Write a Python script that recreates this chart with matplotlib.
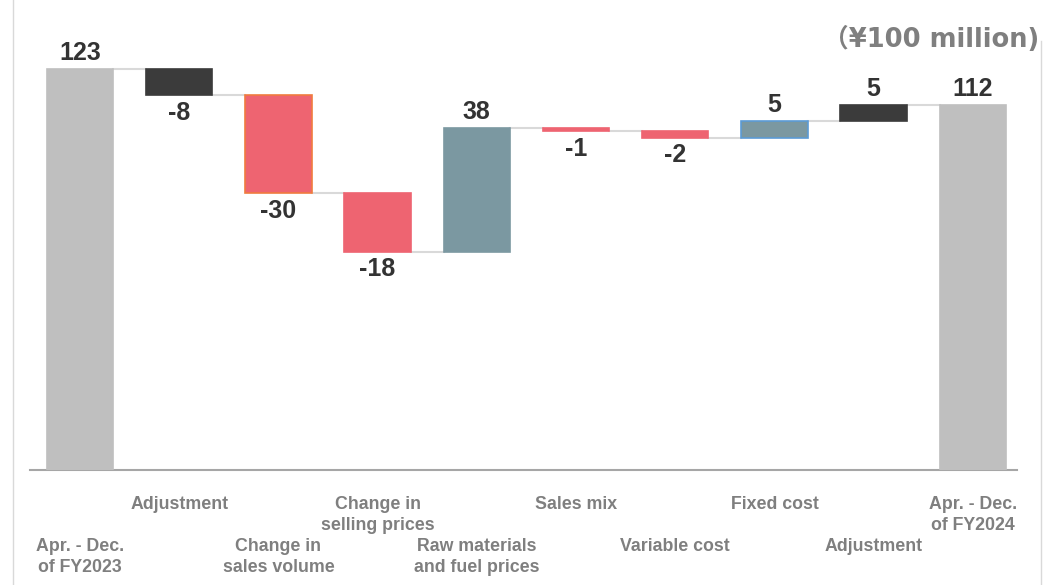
import numpy as np
import matplotlib.pyplot as plt
from matplotlib.lines import Line2D

# data (¥100 million)
categories = ["Apr. - Dec.\nof FY2023", "Adjustment", "Change in\nsales volume",
              "Change in\nselling prices", "Raw materials\nand fuel prices", "Sales mix",
              "Variable cost", "Fixed cost", "Adjustment", "Apr. - Dec.\nof FY2024"]
changes = [123, -8, -30, -18, 38, -1, -2, 5, 5, 112]
is_total = [True, False, False, False, False, False, False, False, False, True]

fill_colors = ["#BFBFBF", "#3B3B3B", "#EE6471", "#EE6471", "#7B98A1",
               "#EE6471", "#EE6471", "#7B98A1", "#3B3B3B", "#BFBFBF"]
edge_colors = ["#BFBFBF", "#3B3B3B", "#F07B3F", "#EE6471", "#7B98A1",
               "#EE6471", "#EE6471", "#5B9BD5", "#3B3B3B", "#BFBFBF"]

plt.rcParams['font.family'] = ['Liberation Sans', 'Noto Sans CJK JP', 'DejaVu Sans']

# bottoms / tops of the floating bars, plus running total for connectors
bottoms = []
heights = []
run = []
running = 0
for v, tot in zip(changes, is_total):
    if tot:
        bottoms.append(0)
        heights.append(v)
        running = v
    else:
        new = running + v
        bottoms.append(min(running, new))
        heights.append(abs(v))
        running = new
    run.append(running)

x = np.arange(len(changes))
width = 0.67

fig = plt.figure(figsize=(10.55, 5.85), dpi=100)
ax = fig.add_axes([30 / 1055, 115 / 585, 987 / 1055, 470 / 585])

ax.bar(x, heights, bottom=bottoms, width=width, color=fill_colors,
       edgecolor=edge_colors, linewidth=1.2, zorder=3)

# connectors between bars
for i in range(len(changes) - 1):
    ax.plot([x[i] + width / 2, x[i + 1] - width / 2], [run[i], run[i]],
            color="#D9D9D9", lw=1.5, zorder=2)

# value labels
for i, v in enumerate(changes):
    top = bottoms[i] + heights[i]
    if v >= 0:
        ax.annotate(f"{v}", (x[i], top), xytext=(0, 3), textcoords="offset points",
                    ha="center", va="bottom", fontsize=18, fontweight="bold", color="#333333")
    else:
        ax.annotate(f"{v}", (x[i], bottoms[i]), xytext=(0, -4), textcoords="offset points",
                    ha="center", va="top", fontsize=18, fontweight="bold", color="#333333")

# category labels in two staggered rows
for i, lab in enumerate(categories):
    yy = -0.055 if i % 2 == 1 else -0.144
    ax.text(x[i], yy, lab, transform=ax.get_xaxis_transform(), ha="center", va="top",
            fontsize=12.8, fontweight="bold", color="#7F7F7F", linespacing=1.3)

ax.set_xlim(-0.504, 9.445)
ax.set_ylim(0, 144.2)
for s in ["top", "right", "left"]:
    ax.spines[s].set_visible(False)
ax.spines["bottom"].set_color("#A6A6A6")
ax.spines["bottom"].set_linewidth(1.5)
ax.set_xticks([])
ax.set_yticks([])

# unit note, top right
fig.text(1039 / 1055, 1 - 40 / 585, "（¥100 million)", ha="right", va="center",
         fontsize=18.5, fontweight="bold", color="#7F7F7F",
         family=['DejaVu Sans', 'Noto Sans CJK JP'])

# light frame lines at the sides
fig.add_artist(Line2D([13 / 1055, 13 / 1055], [0, 1], color="#D9D9D9", lw=1))
fig.add_artist(Line2D([1041 / 1055, 1041 / 1055], [0, 0.93], color="#D9D9D9", lw=1))

fig.savefig("out.png", dpi=100)
